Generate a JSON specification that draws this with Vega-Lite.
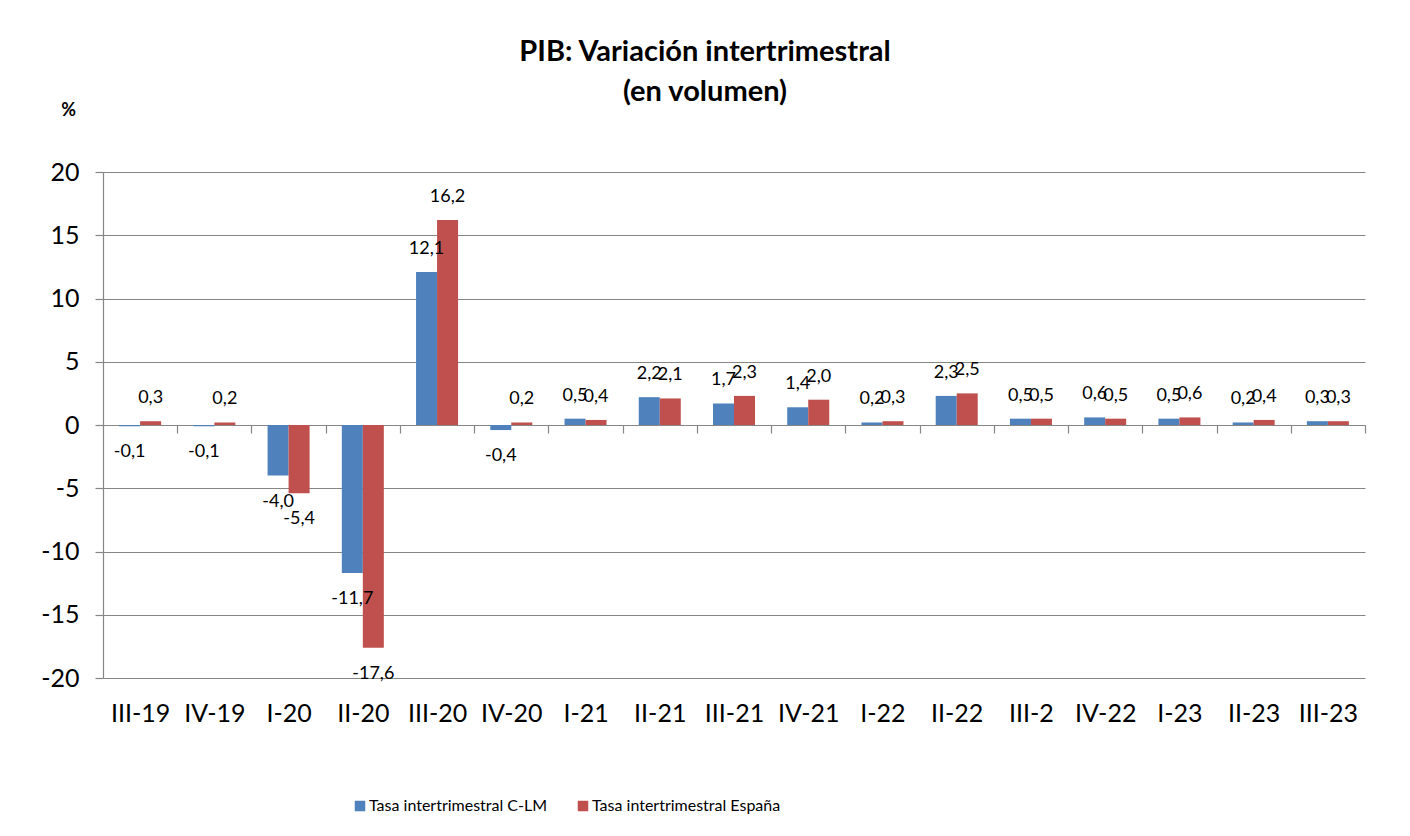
{
  "$schema": "https://vega.github.io/schema/vega-lite/v6.json",
  "width": 1262,
  "height": 506,
  "autosize": {"type": "none"},
  "padding": {"left": 103, "top": 172, "right": 45, "bottom": 158},
  "background": "white",
  "config": {
    "locale": {"number": {"decimal": ",", "thousands": ".", "grouping": [3], "currency": ["", ""], "minus": "-"}},
    "font": "Lato",
    "view": {"stroke": null},
    "axis": {"labelFont": "Lato", "labelColor": "black", "domainColor": "#868686", "tickColor": "#868686", "gridColor": "#868686", "domainWidth": 1.2, "tickWidth": 1.2}
  },
  "title": {
    "text": ["PIB: Variación intertrimestral", "(en volumen)"],
    "font": "Lato",
    "fontSize": 29,
    "fontWeight": "bold",
    "lineHeight": 40,
    "color": "black",
    "anchor": "middle",
    "dx": -29,
    "offset": -6
  },
  "data": {
    "values": [
      {"q": "III-19", "serie": "Tasa intertrimestral C-LM", "v": -0.1},
      {"q": "III-19", "serie": "Tasa intertrimestral España", "v": 0.3},
      {"q": "IV-19", "serie": "Tasa intertrimestral C-LM", "v": -0.1},
      {"q": "IV-19", "serie": "Tasa intertrimestral España", "v": 0.2},
      {"q": "I-20", "serie": "Tasa intertrimestral C-LM", "v": -4.0},
      {"q": "I-20", "serie": "Tasa intertrimestral España", "v": -5.4},
      {"q": "II-20", "serie": "Tasa intertrimestral C-LM", "v": -11.7},
      {"q": "II-20", "serie": "Tasa intertrimestral España", "v": -17.6},
      {"q": "III-20", "serie": "Tasa intertrimestral C-LM", "v": 12.1},
      {"q": "III-20", "serie": "Tasa intertrimestral España", "v": 16.2},
      {"q": "IV-20", "serie": "Tasa intertrimestral C-LM", "v": -0.4},
      {"q": "IV-20", "serie": "Tasa intertrimestral España", "v": 0.2},
      {"q": "I-21", "serie": "Tasa intertrimestral C-LM", "v": 0.5},
      {"q": "I-21", "serie": "Tasa intertrimestral España", "v": 0.4},
      {"q": "II-21", "serie": "Tasa intertrimestral C-LM", "v": 2.2},
      {"q": "II-21", "serie": "Tasa intertrimestral España", "v": 2.1},
      {"q": "III-21", "serie": "Tasa intertrimestral C-LM", "v": 1.7},
      {"q": "III-21", "serie": "Tasa intertrimestral España", "v": 2.3},
      {"q": "IV-21", "serie": "Tasa intertrimestral C-LM", "v": 1.4},
      {"q": "IV-21", "serie": "Tasa intertrimestral España", "v": 2.0},
      {"q": "I-22", "serie": "Tasa intertrimestral C-LM", "v": 0.2},
      {"q": "I-22", "serie": "Tasa intertrimestral España", "v": 0.3},
      {"q": "II-22", "serie": "Tasa intertrimestral C-LM", "v": 2.3},
      {"q": "II-22", "serie": "Tasa intertrimestral España", "v": 2.5},
      {"q": "III-2", "serie": "Tasa intertrimestral C-LM", "v": 0.5},
      {"q": "III-2", "serie": "Tasa intertrimestral España", "v": 0.5},
      {"q": "IV-22", "serie": "Tasa intertrimestral C-LM", "v": 0.6},
      {"q": "IV-22", "serie": "Tasa intertrimestral España", "v": 0.5},
      {"q": "I-23", "serie": "Tasa intertrimestral C-LM", "v": 0.5},
      {"q": "I-23", "serie": "Tasa intertrimestral España", "v": 0.6},
      {"q": "II-23", "serie": "Tasa intertrimestral C-LM", "v": 0.2},
      {"q": "II-23", "serie": "Tasa intertrimestral España", "v": 0.4},
      {"q": "III-23", "serie": "Tasa intertrimestral C-LM", "v": 0.3},
      {"q": "III-23", "serie": "Tasa intertrimestral España", "v": 0.3}
    ]
  },
  "layer": [
    {
      "mark": {"type": "bar"},
      "encoding": {
        "x": {
          "field": "q", "type": "nominal",
          "scale": {"domain": ["III-19","IV-19","I-20","II-20","III-20","IV-20","I-21","II-21","III-21","IV-21","I-22","II-22","III-2","IV-22","I-23","II-23","III-23"], "paddingInner": 0.434, "paddingOuter": 0.217},
          "axis": {"orient": "bottom", "offset": -253, "title": null, "ticks": true, "tickOffset": 37.12, "labelOffset": -37.12, "tickSize": 8, "grid": false, "domain": true, "labelFontSize": 25, "labelPadding": 268, "labelAngle": 0}
        },
        "xOffset": {"field": "serie", "type": "nominal", "scale": {"domain": ["Tasa intertrimestral C-LM", "Tasa intertrimestral España"]}},
        "y": {
          "field": "v", "type": "quantitative",
          "scale": {"domain": [-20, 20], "nice": false, "zero": false},
          "axis": {
            "values": [-20, -15, -10, -5, 0, 5, 10, 15, 20],
            "grid": true, "tickSize": 8, "labelFontSize": 25, "labelPadding": 16,
            "title": "%", "titleAngle": 0, "titleX": -35, "titleY": -62,
            "titleFont": "Lato", "titleFontSize": 18, "titleFontWeight": "bold",
            "titleAlign": "center", "titleBaseline": "middle", "titleColor": "black"
          }
        },
        "color": {
          "field": "serie", "type": "nominal",
          "scale": {"domain": ["Tasa intertrimestral C-LM", "Tasa intertrimestral España"], "range": ["#4F81BD", "#C0504D"]},
          "legend": {
            "orient": "none", "legendX": 249, "legendY": 626, "direction": "horizontal", "padding": 0,
            "title": null, "symbolType": "square", "symbolSize": 110, "symbolStrokeWidth": 0,
            "labelFont": "Lato", "labelFontSize": 16, "labelColor": "black", "labelLimit": 0, "columnPadding": 27, "labelOffset": 1
          }
        }
      }
    },
    {
      "transform": [{"filter": "datum.v >= 0"}],
      "mark": {"type": "text", "dy": -23, "fontSize": 18, "color": "black", "baseline": "middle"},
      "encoding": {
        "x": {"field": "q", "type": "nominal"},
        "xOffset": {"field": "serie", "type": "nominal"},
        "y": {"field": "v", "type": "quantitative"},
        "text": {"field": "v", "type": "quantitative", "format": ".1f"}
      }
    },
    {
      "transform": [{"filter": "datum.v < 0"}],
      "mark": {"type": "text", "dy": 26, "fontSize": 18, "color": "black", "baseline": "middle"},
      "encoding": {
        "x": {"field": "q", "type": "nominal"},
        "xOffset": {"field": "serie", "type": "nominal"},
        "y": {"field": "v", "type": "quantitative"},
        "text": {"field": "v", "type": "quantitative", "format": ".1f"}
      }
    }
  ]
}
